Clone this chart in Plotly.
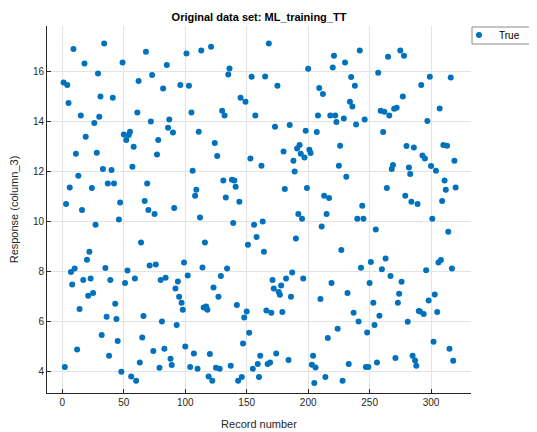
import plotly.graph_objects as go

record_number = [
    1, 2, 3, 4, 5, 6, 7, 8, 9, 10, 11, 12, 13, 14, 15, 16, 17, 18, 19, 20,
    21, 22, 23, 24, 25, 26, 27, 28, 29, 30, 31, 32, 33, 34, 35, 36, 37, 38, 39, 40,
    41, 42, 43, 44, 45, 46, 47, 48, 49, 50, 51, 52, 53, 54, 55, 56, 57, 58, 59, 60,
    61, 62, 63, 64, 65, 66, 67, 68, 69, 70, 71, 72, 73, 74, 75, 76, 77, 78, 79, 80,
    81, 82, 83, 84, 85, 86, 87, 88, 89, 90, 91, 92, 93, 94, 95, 96, 97, 98, 99, 100,
    101, 102, 103, 104, 105, 106, 107, 108, 109, 110, 111, 112, 113, 114, 115, 116, 117, 118, 119, 120,
    121, 122, 123, 124, 125, 126, 127, 128, 129, 130, 131, 132, 133, 134, 135, 136, 137, 138, 139, 140,
    141, 142, 143, 144, 145, 146, 147, 148, 149, 150, 151, 152, 153, 154, 155, 156, 157, 158, 159, 160,
    161, 162, 163, 164, 165, 166, 167, 168, 169, 170, 171, 172, 173, 174, 175, 176, 177, 178, 179, 180,
    181, 182, 184, 185, 186, 187, 188, 189, 190,
    191, 192, 193, 194, 195, 196, 197, 198, 199, 200, 201, 202, 203, 204, 205, 206, 207, 208, 209, 210,
    211, 212, 213, 214, 215, 216, 217, 218, 219, 220, 221, 222, 223, 224, 225, 226, 227, 228, 229, 230,
    231, 232, 233, 234, 235, 236, 237, 238, 239, 240, 241, 242, 243, 244, 245, 246, 247, 248, 249, 250,
    251, 253, 254, 255, 256, 257, 258, 259, 260,
    261, 262, 263, 264, 265, 266, 267, 268, 269, 270, 271, 272, 273, 274, 275, 276, 277, 278, 279, 280,
    281, 282, 283, 284, 285, 286, 287, 288, 289, 290, 291, 292, 293, 294, 295, 296, 297, 298, 299, 300,
    301, 302, 303, 304, 305, 306, 307, 308, 309, 310, 311, 312, 313, 314, 315, 316, 317, 318, 319, 320,
]

response = [
    15.57, 4.19, 10.71, 15.47, 14.75, 11.37, 7.99, 7.49, 16.91, 8.13,
    12.72, 4.89, 11.84, 6.51, 14.25, 10.47, 7.67, 16.33, 13.40, 8.48,
    7.04, 8.80, 7.73, 11.35, 7.15, 13.95, 9.88, 12.76, 15.93, 14.20,
    15.01, 5.47, 12.11, 17.13, 8.15, 6.20, 11.53, 4.64, 7.67, 12.07,
    14.96, 11.53, 6.72, 6.11, 5.23, 10.09, 10.77, 4.00, 16.37, 13.49,
    7.55, 13.27, 8.05, 13.47, 13.60, 3.81, 12.20, 13.00, 7.73, 3.64,
    14.37, 15.63, 4.37, 9.17, 5.37, 6.23, 10.83, 16.80, 11.53, 10.47,
    8.25, 14.01, 15.87, 4.83, 10.31, 8.29, 12.69, 13.27, 4.16, 7.67,
    6.01, 15.33, 4.92, 7.76, 16.27, 13.76, 14.09, 4.52, 4.27, 13.57,
    10.55, 7.33, 5.87, 7.61, 7.00, 15.47, 6.76, 6.48, 8.37, 5.01,
    16.73, 7.85, 15.44, 4.19, 14.37, 12.04, 4.73, 11.04, 11.28, 4.12,
    13.60, 10.17, 16.85, 8.17, 6.57, 9.17, 6.61, 6.48, 3.81, 4.71,
    17.00, 3.64, 7.37, 13.15, 4.16, 12.63, 7.00, 4.12, 7.83, 14.44,
    11.65, 14.25, 10.97, 8.13, 15.89, 16.13, 4.24, 11.68, 9.95, 11.65,
    11.40, 6.67, 3.64, 10.80, 14.96, 3.79, 5.13, 6.17, 14.80, 6.41,
    9.08, 5.56, 12.53, 15.80, 4.12, 9.88, 14.25, 9.39, 4.31, 3.79,
    4.64, 12.24, 10.01, 8.80, 15.81, 6.45, 4.31, 17.13, 4.37, 6.36,
    7.67, 7.33, 13.80, 4.73, 15.44, 7.19, 7.08, 7.45, 6.39, 12.81,
    11.31, 7.73, 4.47, 13.87, 7.00, 7.97, 12.44, 12.01, 9.33,
    12.93, 10.31, 13.07, 12.72, 10.12, 7.73, 12.57, 13.64, 11.35, 16.12,
    12.88, 12.75, 4.28, 4.64, 3.55, 4.17, 13.59, 14.25, 15.35, 6.91,
    9.81, 15.11, 11.04, 3.79, 10.31, 5.35, 10.95, 14.25, 7.55, 16.17,
    16.64, 14.25, 13.99, 5.72, 12.24, 13.04, 8.87, 3.64, 14.13, 16.37,
    11.80, 7.15, 4.31, 14.80, 15.79, 14.61, 6.36, 15.44, 13.89, 10.12,
    6.01, 16.85, 8.16, 10.64, 10.12, 14.09, 4.19, 5.57, 4.19, 7.55,
    8.39, 6.76, 5.87, 9.69, 4.37, 15.96, 6.24, 14.44, 8.10,
    13.59, 14.40, 8.53, 11.35, 16.60, 14.25, 7.83, 12.11, 12.27, 14.52,
    4.55, 14.56, 6.76, 7.12, 16.85, 7.60, 15.01, 16.64, 11.04, 13.03,
    6.00, 12.17, 11.91, 10.80, 4.64, 12.97, 4.45, 4.24, 10.71, 6.43,
    6.41, 15.47, 12.65, 6.31, 12.53, 8.06, 14.03, 6.85, 15.80, 12.23,
    10.12, 5.20, 7.09, 12.04, 6.39, 8.37, 14.53, 8.47, 10.83, 13.07,
    11.65, 11.28, 13.04, 9.60, 4.92, 15.77, 8.13, 4.44, 12.44, 11.37,
]

x_ticks = [0, 50, 100, 150, 200, 250, 300]
y_ticks = [4, 6, 8, 10, 12, 14, 16]

title_text = "Original data set: ML_training_TT"
x_label = "Record number"
y_label = "Response (column_3)"
series_name = "True"

FONT = "Liberation Sans, Arial, Helvetica, sans-serif"
AX = "#262626"
GRID = "#e3e3e3"

W, H = 537, 432
ML, MR, MT, MB = 39, 74, 18, 47
PW = W - ML - MR
PH = H - MT - MB

fig = go.Figure()
fig.add_trace(go.Scatter(
    x=record_number, y=response, mode="markers", name=series_name,
    marker=dict(color="#0072BD", size=6, line=dict(width=0)),
    showlegend=True,
))

# legend frame (MATLAB-style box, cut off by the window edge)
fig.add_shape(type="rect", xref="paper", yref="paper",
              x0=(464 - ML) / PW, x1=(600 - ML) / PW,
              y0=1 - (36 - MT) / PH, y1=1 - (19 - MT) / PH,
              line=dict(color="#8a8a8a", width=1), fillcolor="white", layer="below")

fig.update_layout(
    width=W, height=H,
    margin=dict(l=ML, r=MR, t=MT, b=MB, autoexpand=False),
    paper_bgcolor="white", plot_bgcolor="white",
    font=dict(family=FONT, size=10, color=AX),
    title=dict(text="<b>" + title_text + "</b>", x=251 / W,
               xanchor="center", y=1 - 9.5 / H, yanchor="middle",
               font=dict(family=FONT, size=11, color="black")),
    showlegend=True,
    legend=dict(x=(451 - ML) / PW, y=1 - (27 - MT) / PH, xanchor="left", yanchor="middle",
                borderwidth=0, bgcolor="rgba(0,0,0,0)",
                font=dict(family=FONT, size=10, color="black"),
                itemwidth=30, tracegroupgap=0),
    xaxis=dict(range=[-12.5, 332.5], tickvals=x_ticks, ticks="inside", ticklen=4,
               tickcolor=AX, showline=True, linecolor=AX, linewidth=1, mirror=False,
               showgrid=True, gridcolor=GRID, gridwidth=1, zeroline=False,
               tickfont=dict(size=10, color=AX),
               title=dict(text=x_label, font=dict(size=11, color=AX), standoff=13)),
    yaxis=dict(range=[3.15, 17.83], tickvals=y_ticks, ticks="inside", ticklen=4,
               tickcolor=AX, showline=True, linecolor=AX, linewidth=1, mirror=False,
               showgrid=True, gridcolor=GRID, gridwidth=1, zeroline=False,
               tickfont=dict(size=10, color=AX),
               title=dict(text=y_label, font=dict(size=11, color=AX), standoff=14)),
)

fig.write_html("out.html")
